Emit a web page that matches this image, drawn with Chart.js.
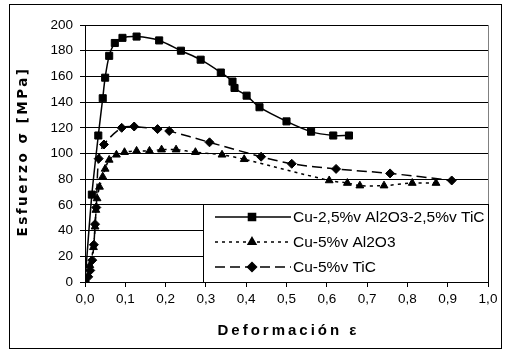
<!DOCTYPE html>
<html>
<head>
<meta charset="utf-8">
<script src="https://cdn.jsdelivr.net/npm/chart.js@4"></script>
<style>
  html, body { margin: 0; padding: 0; background: #fff; }
  #wrap { width: 506px; height: 351px; }
</style>
</head>
<body>
<div id="wrap"><canvas id="stress-chart" width="506" height="351"></canvas></div>
<script>
// Esfuerzo vs deformación, three Cu composites
const seriesNames = ['Cu-2,5%v Al2O3-2,5%v TiC', 'Cu-5%v Al2O3', 'Cu-5%v TiC'];

const mixX = [0, 0.017, 0.033, 0.044, 0.050, 0.060, 0.074, 0.093, 0.128, 0.184, 0.238, 0.287, 0.337, 0.366, 0.371, 0.401, 0.433, 0.500, 0.561, 0.616, 0.655];
const mixY = [0, 68, 114, 143, 159, 176, 186, 190, 191, 188, 180, 173, 163, 156, 151, 145, 136, 125, 117, 114, 114];

const aluX = [0, 0.012, 0.021, 0.025, 0.027, 0.030, 0.036, 0.044, 0.050, 0.060, 0.078, 0.098, 0.128, 0.160, 0.190, 0.226, 0.274, 0.340, 0.395, 0.606, 0.651, 0.682, 0.742, 0.812, 0.871];
const aluY = [0, 13, 27, 43, 56, 65, 74, 82, 88, 95, 99, 101, 102, 102, 103, 103, 101, 99, 95.5, 79, 77, 75, 75, 77, 77];

const ticX = [0, 0.008, 0.013, 0.018, 0.022, 0.025, 0.028, 0.034, 0.047, 0.091, 0.122, 0.180, 0.209, 0.309, 0.437, 0.513, 0.623, 0.757, 0.910];
const ticY = [0, 4, 9, 17, 29, 45, 58, 96, 107, 120, 121, 119, 117.5, 108.7, 97.5, 92, 88, 84.5, 79];

const xTitle = 'Deformación ε';
const yTitle = 'Esfuerzo σ [MPa]';

const FONT = "'Liberation Sans', Arial, sans-serif";
Chart.defaults.font.family = FONT;
Chart.defaults.color = '#000';

function pts(xs, ys) {
  return xs.map((x, i) => ({ x, y: ys[i] }));
}

const styles = [
  { pointStyle: 'rect', radius: 5, dash: [] },
  { pointStyle: 'triangle', radius: 4.5, dash: [3, 4] },
  { pointStyle: 'rectRot', radius: 4.5, dash: [10, 5] }
];

const dataSets = [pts(mixX, mixY), pts(aluX, aluY), pts(ticX, ticY)].map((d, i) => ({
  label: seriesNames[i],
  data: d,
  showLine: true,
  borderColor: '#000',
  backgroundColor: '#000',
  borderWidth: 1.5,
  borderDash: styles[i].dash,
  tension: 0.3,
  pointStyle: styles[i].pointStyle,
  pointRadius: styles[i].radius,
  pointBorderWidth: 1
}));

// frame, axis titles and the boxed legend inside the plot
const decorPlugin = {
  id: 'decor',
  beforeDraw(chart) {
    const ctx = chart.ctx;
    ctx.save();
    ctx.fillStyle = '#fff';
    ctx.fillRect(0, 0, chart.width, chart.height);
    ctx.restore();
  },
  afterDraw(chart) {
    const ctx = chart.ctx;
    const a = chart.chartArea;
    ctx.save();
    // outer frame
    ctx.strokeStyle = '#000';
    ctx.lineWidth = 1;
    ctx.strokeRect(9.5, 4.5, 492, 344);
    // right border of plot area
    ctx.strokeStyle = '#808080';
    ctx.beginPath();
    ctx.moveTo(Math.round(a.right) + 0.5, a.top);
    ctx.lineTo(Math.round(a.right) + 0.5, a.bottom);
    ctx.stroke();

    // axis titles
    ctx.fillStyle = '#000';
    ctx.font = 'bold 15px ' + FONT;
    ctx.textAlign = 'center';
    ctx.textBaseline = 'middle';
    ctx.letterSpacing = '3px';
    ctx.fillText(xTitle, (a.left + a.right) / 2 + 2, 331);
    ctx.save();
    ctx.translate(23, (a.top + a.bottom) / 2);
    ctx.rotate(-Math.PI / 2);
    ctx.font = 'bold 13.5px "DejaVu Sans", sans-serif';
    ctx.letterSpacing = '2.5px';
    ctx.fillText(yTitle, 2, 0);
    ctx.restore();
    ctx.letterSpacing = '0px';

    // legend box
    const lx = 203.5, ly = 204.5, lw = Math.round(a.right) - 203, lh = Math.round(a.bottom) - 204;
    ctx.fillStyle = '#fff';
    ctx.fillRect(lx, ly, lw, lh);
    ctx.strokeStyle = '#000';
    ctx.strokeRect(lx, ly, lw, lh);
    ctx.font = '15.5px ' + FONT;
    ctx.textAlign = 'left';
    const rows = [217, 242, 267];
    dataSets.forEach((ds, i) => {
      const y = rows[i];
      ctx.strokeStyle = '#000';
      ctx.lineWidth = 1.5;
      ctx.setLineDash(ds.borderDash);
      ctx.beginPath();
      ctx.moveTo(215, y);
      ctx.lineTo(291, y);
      ctx.stroke();
      ctx.setLineDash([]);
      ctx.fillStyle = '#000';
      Chart.helpers.drawPoint(ctx, { pointStyle: ds.pointStyle, radius: ds.pointRadius, borderWidth: 1 }, 252, y);
      ctx.fillStyle = '#000';
      ctx.fillText(ds.label, 293, y + 1);
    });
    ctx.restore();
  }
};

new Chart(document.getElementById('stress-chart'), {
  type: 'scatter',
  data: { datasets: dataSets },
  options: {
    responsive: false,
    animation: false,
    layout: { padding: { top: 25, right: 18, left: 0, bottom: 0 } },
    plugins: {
      legend: { display: false },
      tooltip: { enabled: false }
    },
    scales: {
      x: {
        type: 'linear',
        min: 0,
        max: 1,
        afterFit: s => { s.height = 69; },
        ticks: {
          stepSize: 0.1,
          padding: 4,
          font: { size: 13.5 },
          callback: v => v.toFixed(1).replace('.', ',')
        },
        grid: { drawOnChartArea: false, tickLength: 5, color: '#000' },
        border: { color: '#000', width: 1 }
      },
      y: {
        min: 0,
        max: 200,
        afterFit: s => { s.width = 85; },
        ticks: { stepSize: 20, padding: 7, font: { size: 13.5 } },
        grid: { color: '#000', lineWidth: 1, tickLength: 5 },
        border: { color: '#000', width: 1 }
      }
    }
  },
  plugins: [decorPlugin]
});
</script>
</body>
</html>
